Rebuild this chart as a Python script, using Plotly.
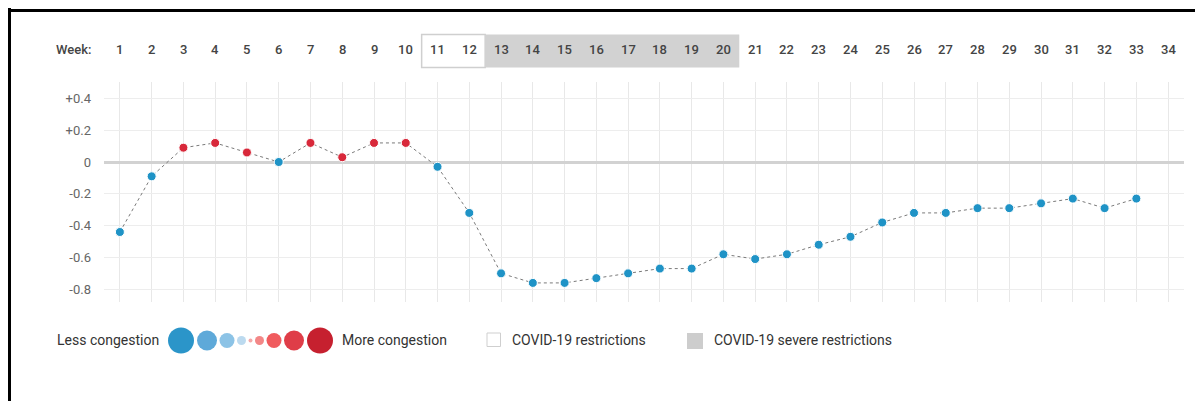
import plotly.graph_objects as go

# page body has an 8px margin; the figure starts at (8, 8) in the window
OFF = 8
W, H = 1203 - OFF, 409 - 2 * OFF

weeks = list(range(1, 34))
congestion = [-0.44, -0.09, 0.09, 0.12, 0.06, 0.00, 0.12, 0.03, 0.12, 0.12,
              -0.03, -0.32, -0.70, -0.76, -0.76, -0.73, -0.70, -0.67, -0.67, -0.58,
              -0.61, -0.58, -0.52, -0.47, -0.38, -0.32, -0.32, -0.29, -0.29, -0.26,
              -0.23, -0.29, -0.23]
week_labels = [str(w) for w in range(1, 35)]
y_ticks = [0.4, 0.2, 0.0, -0.2, -0.4, -0.6, -0.8]
y_tick_text = ["+0.4", "+0.2", "0", "-0.2", "-0.4", "-0.6", "-0.8"]
restriction_weeks = [11, 12]
severe_weeks = list(range(13, 21))

# legend key (colour scale)
key_sizes = [26, 20, 15, 9, 4, 9, 15, 20, 26]
key_colors = ["#2b95c9", "#5ea9d9", "#8cc3e6", "#bcdaef", "#f4a9a9",
              "#f38787", "#f05b5e", "#df3d48", "#c6202f"]

BLUE = "#1f93c6"
RED = "#d8283a"
FONT = "Roboto"

# helpers: window pixel -> paper fraction (figure has zero margins)
def px(x):
    return (x - OFF) / W

def py(y):
    return 1 - (y - OFF) / H

fig = go.Figure()

marker_colors = [RED if v > 0 else BLUE for v in congestion]
fig.add_trace(go.Scatter(
    x=weeks, y=congestion, mode="lines+markers",
    line=dict(color="#7a7a7a", width=1, dash="dot"),
    marker=dict(size=9, color=marker_colors, line=dict(color="white", width=1)),
    hoverinfo="x+y", showlegend=False))

plot_left, plot_right, plot_top, plot_bottom = 104, 1184, 82, 302

fig.update_layout(
    width=W, height=H,
    margin=dict(l=0, r=0, t=0, b=0),
    paper_bgcolor="white", plot_bgcolor="white",
    font=dict(family=FONT, size=13, color="#555"),
    xaxis=dict(domain=[px(plot_left), px(plot_right)], range=[0.5, 34.5],
               tickvals=list(range(1, 35)), showticklabels=False, ticks="",
               showgrid=True, gridcolor="#e8e8e8", gridwidth=1,
               zeroline=False, showline=False, fixedrange=True),
    yaxis=dict(domain=[py(plot_bottom), py(plot_top)], range=[-0.88, 0.503],
               tickvals=y_ticks, ticktext=y_tick_text, ticks="",
               ticklabelstandoff=12,
               tickfont=dict(family=FONT, size=13, color="#666"),
               showgrid=True, gridcolor="#ededed", gridwidth=1,
               zeroline=True, zerolinecolor="#d2d2d2", zerolinewidth=2.5,
               showline=False, fixedrange=True),
    hovermode="closest",
)

shapes = []
# restriction boxes in header
shapes.append(dict(type="rect", xref="x", yref="paper",
                   x0=min(restriction_weeks) - 0.5, x1=max(restriction_weeks) + 0.5,
                   y0=py(67.5), y1=py(34.5),
                   fillcolor="white", line=dict(color="#cfcfcf", width=1.5)))
shapes.append(dict(type="rect", xref="x", yref="paper",
                   x0=min(severe_weeks) - 0.5, x1=max(severe_weeks) + 0.5,
                   y0=py(67.5), y1=py(34.5),
                   fillcolor="#d2d2d2", line=dict(width=0)))
# legend key circles (pixel-sized, anchored in paper space)
key_x = [181, 207, 227, 241.5, 250.5, 259.5, 274, 294, 320]
for cx, d, c in zip(key_x, key_sizes, key_colors):
    shapes.append(dict(type="circle", xref="paper", yref="paper",
                       xsizemode="pixel", ysizemode="pixel",
                       xanchor=px(cx), yanchor=py(340.5),
                       x0=-d / 2, x1=d / 2, y0=-d / 2, y1=d / 2,
                       fillcolor=c, line=dict(width=0)))
# legend squares
shapes.append(dict(type="rect", xref="paper", yref="paper",
                   x0=px(487), x1=px(500.5), y0=py(346.5), y1=py(333),
                   fillcolor="white", line=dict(color="#cfcfcf", width=1)))
shapes.append(dict(type="rect", xref="paper", yref="paper",
                   x0=px(687), x1=px(703), y0=py(349), y1=py(333),
                   fillcolor="#cdcdcd", line=dict(width=0)))
# black frame (left and top)
shapes.append(dict(type="rect", xref="paper", yref="paper",
                   x0=px(8), x1=px(11), y0=0, y1=1,
                   fillcolor="black", line=dict(width=0)))
shapes.append(dict(type="rect", xref="paper", yref="paper",
                   x0=px(8), x1=1, y0=py(12), y1=py(9),
                   fillcolor="black", line=dict(width=0)))
fig.update_layout(shapes=shapes)

ann = []
ann.append(dict(text="Week:", xref="paper", yref="paper", x=px(93), y=py(49.5),
                xanchor="right", yanchor="middle", showarrow=False,
                font=dict(family=FONT, size=13, color="#444", weight=500)))
for i, lab in enumerate(week_labels):
    ann.append(dict(text=lab, xref="x", yref="paper", x=i + 1, y=py(49.5),
                    xanchor="center", yanchor="middle", showarrow=False,
                    font=dict(family=FONT, size=13, color="#444", weight=500)))

leg_font = dict(family=FONT, size=14, color="#333")
ann.append(dict(text="Less congestion", xref="paper", yref="paper", x=px(161), y=py(339.5),
                xanchor="right", yanchor="middle", showarrow=False, font=leg_font))
ann.append(dict(text="More congestion", xref="paper", yref="paper", x=px(340), y=py(339.5),
                xanchor="left", yanchor="middle", showarrow=False, font=leg_font))
ann.append(dict(text="COVID-19 restrictions", xref="paper", yref="paper", x=px(510), y=py(339.5),
                xanchor="left", yanchor="middle", showarrow=False, font=leg_font))
ann.append(dict(text="COVID-19 severe restrictions", xref="paper", yref="paper", x=px(712), y=py(339.5),
                xanchor="left", yanchor="middle", showarrow=False, font=leg_font))
fig.update_layout(annotations=ann)

fig.write_html("out.html")
